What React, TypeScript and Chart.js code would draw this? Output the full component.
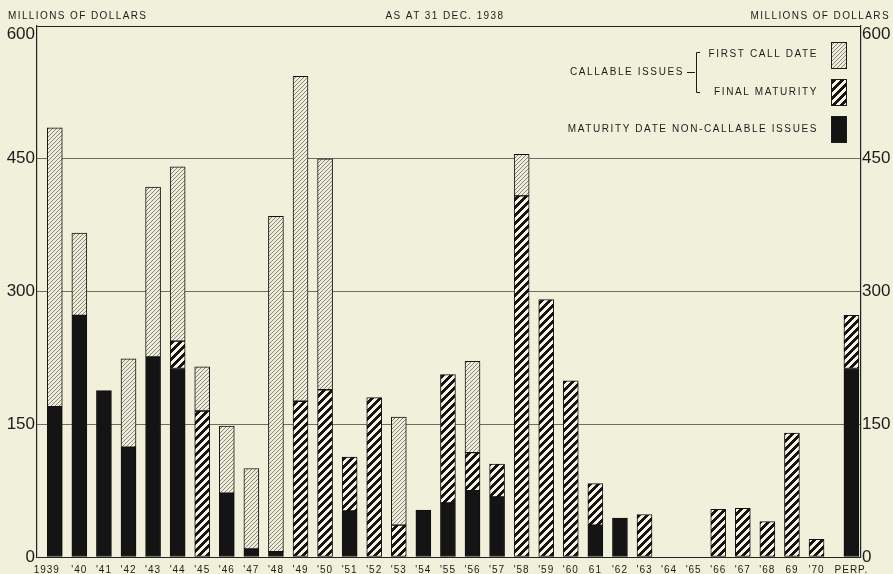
import React, { useEffect, useRef } from 'react';
import { Chart, registerables } from 'chart.js';

Chart.register(...registerables);

// ---------- data ----------
const categories = [
  '1939', "'40", "'41", "'42", "'43", "'44", "'45", "'46", "'47", "'48",
  "'49", "'50", "'51", "'52", "'53", "'54", "'55", "'56", "'57", "'58",
  "'59", "'60", '61', "'62", "'63", "'64", "'65", "'66", "'67", "'68",
  '69', "'70", 'PERP.',
];
const nonCallable = [
  170, 273, 188, 124, 226, 213, 0, 72, 9, 6,
  0, 0, 52, 0, 0, 53, 61, 75, 68, 0,
  0, 0, 36, 44, 0, 0, 0, 0, 0, 0,
  0, 0, 213,
];
const finalMaturity = [
  0, 0, 0, 0, 0, 31, 165, 0, 0, 0,
  176, 189, 61, 180, 36, 0, 145, 43, 37, 408,
  291, 199, 47, 0, 48, 0, 0, 54, 55, 40,
  140, 20, 60,
];
const firstCallDate = [
  315, 93, 0, 100, 192, 197, 50, 76, 91, 379,
  367, 261, 0, 0, 122, 0, 0, 103, 0, 47,
  0, 0, 0, 0, 0, 0, 0, 0, 0, 0,
  0, 0, 0,
];
const yTickValues = [0, 150, 300, 450, 600];
const axisTitle = 'MILLIONS OF DOLLARS';
const centerTitle = 'AS AT 31 DEC. 1938';
const legendGroup = 'CALLABLE ISSUES';
const legendFirstCall = 'FIRST CALL DATE';
const legendFinal = 'FINAL MATURITY';
const legendNonCallable = 'MATURITY DATE NON-CALLABLE ISSUES';

// ---------- layout / style ----------
const W = 893;
const H = 574;
const PERP_GAP = 1.42;
const BG = '#f1f0da';
const INK = '#1c1c1a';
const FONT = '"Liberation Sans", Arial, sans-serif';

const xPos = (i: number) => (i < categories.length - 1 ? i : i - 1 + PERP_GAP);

function hexRgb(h: string) {
  const n = parseInt(h.slice(1), 16);
  return [(n >> 16) & 255, (n >> 8) & 255, n & 255];
}

// crisp diagonal "/" stripes: pixel is ink when (x + y) mod size < ink
function makePattern(size: number, ink: number, bg: string, fg: string) {
  const c = document.createElement('canvas');
  c.width = size;
  c.height = size;
  const g = c.getContext('2d')!;
  const img = g.createImageData(size, size);
  const b = hexRgb(bg);
  const f = hexRgb(fg);
  for (let y = 0; y < size; y++) {
    for (let x = 0; x < size; x++) {
      const on = (x + y) % size < ink;
      const col = on ? f : b;
      const k = (y * size + x) * 4;
      img.data[k] = col[0];
      img.data[k + 1] = col[1];
      img.data[k + 2] = col[2];
      img.data[k + 3] = 255;
    }
  }
  g.putImageData(img, 0, 0);
  const ctx = document.createElement('canvas').getContext('2d')!;
  return ctx.createPattern(c, 'repeat')!;
}

const tickLabel = (v: any) => (v === 600 ? ['', '600'] : String(v));

export default function App() {
  const ref = useRef<HTMLCanvasElement | null>(null);

  useEffect(() => {
    document.body.style.margin = '0';
    document.body.style.background = BG;
    const canvas = ref.current!;
    const light = makePattern(4, 1, '#eeedda', '#85857c');
    const bold = makePattern(8, 4, '#f4f3e3', '#141414');

    const mk = (vals: number[]) =>
      vals.map((v, i) => ({ x: xPos(i), y: v === 0 ? null : v }));

    const decor = {
      id: 'decor',
      beforeDraw(chart: any) {
        const ctx = chart.ctx;
        ctx.save();
        ctx.fillStyle = BG;
        ctx.fillRect(0, 0, chart.width, chart.height);
        ctx.restore();
      },
      afterDraw(chart: any) {
        const ctx = chart.ctx as CanvasRenderingContext2D;
        const xs = chart.scales.x;
        const bottom = chart.chartArea.bottom;
        ctx.save();
        ctx.fillStyle = INK;
        ctx.strokeStyle = INK;
        ctx.textBaseline = 'middle';
        // header texts
        ctx.font = `10px ${FONT}`;
        (ctx as any).letterSpacing = '1.4px';
        ctx.textAlign = 'left';
        ctx.fillText(axisTitle, 8, 16);
        ctx.textAlign = 'center';
        ctx.fillText(centerTitle, 445, 16);
        ctx.textAlign = 'right';
        ctx.fillText(axisTitle, 890, 16);

        // x labels
        ctx.font = `10px ${FONT}`;
        (ctx as any).letterSpacing = '1px';
        ctx.textAlign = 'center';
        categories.forEach((lab, i) => {
          const px = xs.getPixelForValue(xPos(i));
          ctx.fillText(lab, px + (i === 0 ? -8 : 0), bottom + 13);
        });

        // legend
        (ctx as any).letterSpacing = '1.6px';
        ctx.textAlign = 'right';
        ctx.fillText(legendFirstCall, 818, 54);
        ctx.fillText(legendFinal, 818, 92);
        ctx.fillText(legendNonCallable, 818, 129);
        ctx.fillText(legendGroup, 684, 72);
        ctx.lineWidth = 1;
        ctx.beginPath();
        ctx.moveTo(687, 72.5);
        ctx.lineTo(695, 72.5);
        ctx.moveTo(700, 52.5);
        ctx.lineTo(696.5, 52.5);
        ctx.lineTo(696.5, 92.5);
        ctx.lineTo(700, 92.5);
        ctx.stroke();
        const sw = [
          { y: 42, fill: light as any },
          { y: 79, fill: bold as any },
          { y: 116, fill: '#141414' },
        ];
        sw.forEach((s) => {
          ctx.fillStyle = s.fill;
          ctx.fillRect(831, s.y, 16, 26);
          ctx.strokeStyle = INK;
          ctx.strokeRect(831.5, s.y + 0.5, 15, 26);
        });
        ctx.restore();
      },
    };

    const tickFont = { family: FONT, size: 17, lineHeight: 1.0 };
    const chart = new Chart(canvas, {
      type: 'bar',
      data: {
        datasets: [
          {
            label: legendNonCallable,
            data: mk(nonCallable) as any,
            backgroundColor: '#141414',
          },
          {
            label: legendFinal,
            data: mk(finalMaturity) as any,
            backgroundColor: bold as any,
          },
          {
            label: legendFirstCall,
            data: mk(firstCallDate) as any,
            backgroundColor: light as any,
          },
        ],
      },
      options: {
        responsive: false,
        animation: false,
        layout: { padding: { top: 26, left: 0, right: 0, bottom: 0 } },
        plugins: { legend: { display: false }, tooltip: { enabled: false } },
        datasets: {
          bar: {
            barThickness: 15,
            borderColor: '#111',
            borderWidth: 1,
            borderSkipped: false,
          },
        },
        scales: {
          x: {
            type: 'linear',
            stacked: true,
            offset: false,
            min: -0.724,
            max: 32.81,
            grid: { display: false, offset: false },
            border: { display: false },
            ticks: { display: false },
            afterFit: (s: any) => {
              s.height = 17;
            },
          },
          y: {
            type: 'linear',
            position: 'left',
            stacked: true,
            min: 0,
            max: 600,
            afterBuildTicks: (s: any) => {
              s.ticks = yTickValues.map((v) => ({ value: v }));
            },
            ticks: { font: tickFont, color: INK, padding: 2, callback: tickLabel },
            grid: {
              drawTicks: false,
              lineWidth: 1,
              color: (c: any) =>
                c.tick && (c.tick.value === 0 || c.tick.value === 600) ? '#222' : '#6e6e66',
            },
            border: { color: '#222', width: 1.2 },
            afterFit: (s: any) => {
              s.width = 37;
            },
          },
          y2: {
            type: 'linear',
            position: 'right',
            min: 0,
            max: 600,
            afterBuildTicks: (s: any) => {
              s.ticks = yTickValues.map((v) => ({ value: v }));
            },
            ticks: { font: tickFont, color: INK, padding: 1, callback: tickLabel },
            grid: { display: false, drawTicks: false },
            border: { color: '#222', width: 1.2 },
            afterFit: (s: any) => {
              s.width = 32;
            },
          },
        },
      } as any,
      plugins: [decor],
    });
    return () => chart.destroy();
  }, []);

  return (
    <div style={{ position: 'absolute', left: 0, top: 0, width: W, height: H, background: BG }}>
      <canvas ref={ref} width={W} height={H} style={{ display: 'block' }} />
    </div>
  );
}
